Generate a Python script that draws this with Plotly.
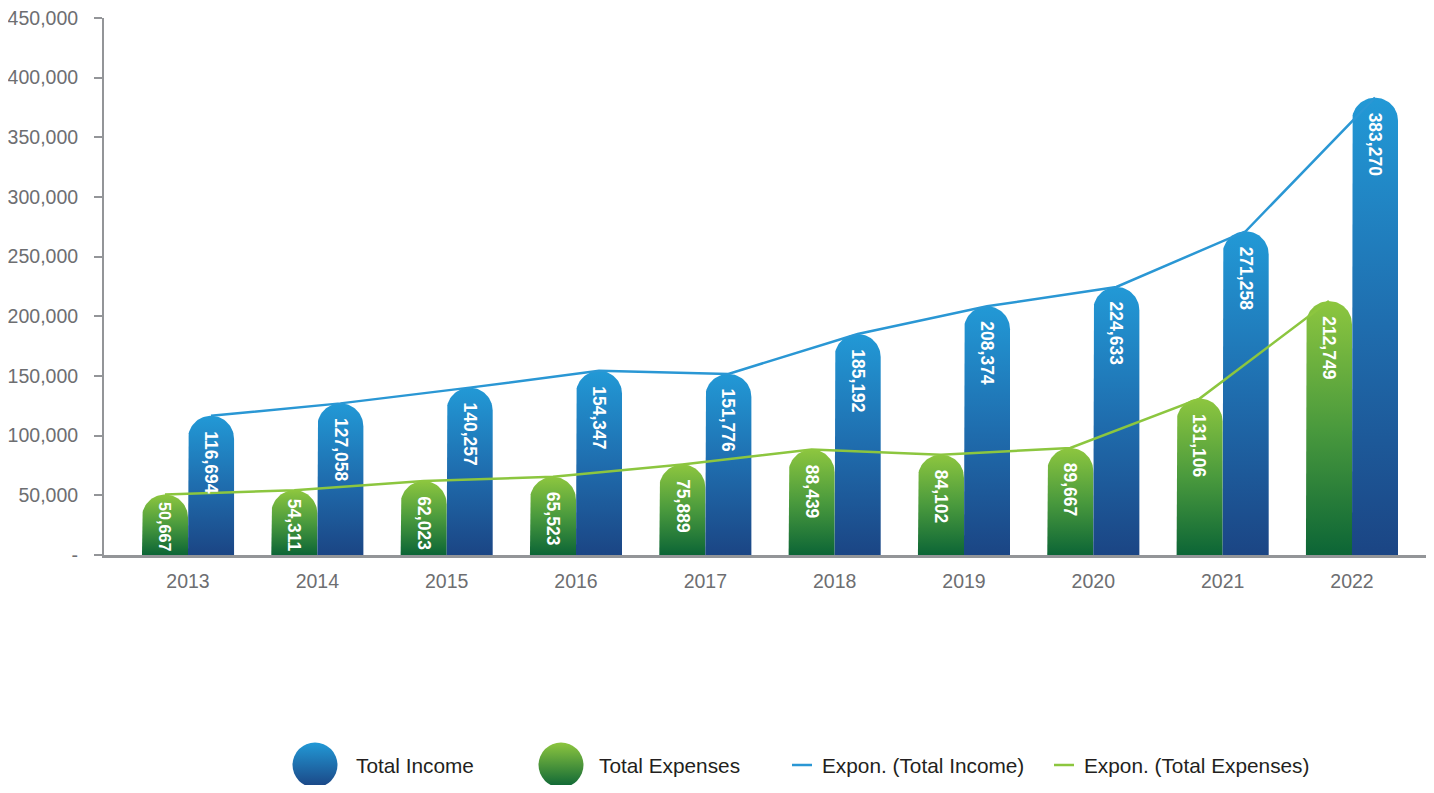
import numpy as np
import plotly.graph_objects as go

# ---------------- data ----------------
years = ["2013", "2014", "2015", "2016", "2017", "2018", "2019", "2020", "2021", "2022"]
total_income = [116694, 127058, 140257, 154347, 151776, 185192, 208374, 224633, 271258, 383270]
total_expenses = [50667, 54311, 62023, 65523, 75889, 88439, 84102, 89667, 131106, 212749]
y_tickvals = [0, 50000, 100000, 150000, 200000, 250000, 300000, 350000, 400000, 450000]
y_ticktext = ["-", "50,000", "100,000", "150,000", "200,000", "250,000",
              "300,000", "350,000", "400,000", "450,000"]

# ---------------- layout constants ----------------
PAGE_PAD = 8                       # default body margin of the html page
W, H = 1434 - 2 * PAGE_PAD, 793 - 2 * PAGE_PAD
M_T, M_B = 18 - PAGE_PAD, 0
PLOT_H = H - M_T - M_B
X_LEFT_PX = 104 - PAGE_PAD
MAIN_H_PX = 537
CAT_PX = 129.33                    # px between category centres
FIRST_CAT_PX = 188 - PAGE_PAD      # px of first category centre
X0 = -(FIRST_CAT_PX - X_LEFT_PX) / CAT_PX
X1 = X0 + (W - X_LEFT_PX) / CAT_PX
Y_MAX = 450000
BAR_W = 0.356            # each bar width in category units
OFF = BAR_W / 2          # offset of each bar from category centre

sx = CAT_PX                        # px per x unit
sy = MAIN_H_PX / Y_MAX             # px per y unit

BLUE_SCALE = [[0, "#1b4584"], [0.5, "#1f6dae"], [1, "#2299d6"]]
GREEN_SCALE = [[0, "#0c6536"], [0.5, "#4a9a3d"], [1, "#8dc63f"]]
BLUE_LINE = "#2a97d4"
GREEN_LINE = "#8cc63f"
AXIS_COL = "#939598"
TICK_COL = "#6d6e71"
FONT = "Liberation Sans, Arial, Helvetica, sans-serif"
LABEL_SIZE = 17.5
LEGEND_SIZE = 20.8


def rounded_bar(cx, value):
    hw = BAR_W / 2
    r_px = hw * sx
    r_y = r_px / sy
    t = np.linspace(np.pi, 0, 40)
    xs = [cx - hw, cx - hw] + list(cx + hw * np.cos(t)) + [cx + hw, cx + hw]
    ys = [0, value - r_y] + list(value - r_y + r_y * np.sin(t)) + [value - r_y, 0]
    return xs, ys


def label_em(txt):
    # approximate Arial-bold advance widths in em
    return sum(0.278 if ch == "," else 0.556 for ch in txt)


fig = go.Figure()

idx = list(range(len(years)))
for i in idx:
    for val, off, scale in ((total_expenses[i], -OFF, GREEN_SCALE),
                            (total_income[i], OFF, BLUE_SCALE)):
        xs, ys = rounded_bar(i + off, val)
        fig.add_trace(go.Scatter(
            x=xs, y=ys, mode="lines", fill="toself",
            fillgradient=dict(type="vertical", colorscale=scale),
            line=dict(width=0, color="rgba(0,0,0,0)"),
            hoverinfo="skip", showlegend=False,
        ))

# trend lines
fig.add_trace(go.Scatter(x=[i + OFF for i in idx], y=total_income, mode="lines",
                         line=dict(color=BLUE_LINE, width=2.5),
                         name="Expon. (Total Income)", showlegend=False))
fig.add_trace(go.Scatter(x=[i - OFF for i in idx], y=total_expenses, mode="lines",
                         line=dict(color=GREEN_LINE, width=2.5),
                         name="Expon. (Total Expenses)", showlegend=False))

annotations = []
for i in idx:
    for val, off in ((total_expenses[i], -OFF), (total_income[i], OFF)):
        txt = f"{val:,}"
        h_px = val * sy
        size = LABEL_SIZE
        length = label_em(txt) * size
        avail = h_px - 11
        if length > avail:
            size = size * avail / length
            length = label_em(txt) * size
        shift = min(13, max(6, h_px - length - 5))
        annotations.append(dict(
            x=i + off, y=val, xref="x", yref="y", text=txt,
            showarrow=False, textangle=90, xanchor="center", yanchor="top",
            yshift=-shift, font=dict(family=FONT, size=size, color="white", weight="bold"),
        ))

# ---------------- custom legend (on a hidden helper axis in pixel units) ----------------
LEG_Y = H - (765 - PAGE_PAD)
leg_circles = [(315, "#2299d6", "#1b4584", "Total Income", 354),
               (561, "#8dc63f", "#0c6536", "Total Expenses", 597)]
for cx, c_top, c_bot, label, tx in leg_circles:
    fig.add_trace(go.Scatter(
        x=[cx - PAGE_PAD], y=[LEG_Y], xaxis="x2", yaxis="y2", mode="markers",
        marker=dict(size=45, color=c_top, gradient=dict(type="vertical", color=c_bot),
                    line=dict(width=0)),
        hoverinfo="skip", showlegend=False))
    annotations.append(dict(x=tx - PAGE_PAD, y=LEG_Y, xref="x2", yref="y2", text=label,
                            showarrow=False, xanchor="left", yanchor="middle",
                            font=dict(family=FONT, size=LEGEND_SIZE, color="#231f20")))

leg_lines = [(792, 812, BLUE_LINE, "Expon. (Total Income)", 820),
             (1054, 1074, GREEN_LINE, "Expon. (Total Expenses)", 1082)]
for xa, xb, col, label, tx in leg_lines:
    fig.add_trace(go.Scatter(
        x=[xa - PAGE_PAD, xb - PAGE_PAD], y=[LEG_Y, LEG_Y], xaxis="x2", yaxis="y2",
        mode="lines", line=dict(color=col, width=2.5), hoverinfo="skip",
        showlegend=False))
    annotations.append(dict(x=tx - PAGE_PAD, y=LEG_Y, xref="x2", yref="y2", text=label,
                            showarrow=False, xanchor="left", yanchor="middle",
                            font=dict(family=FONT, size=LEGEND_SIZE, color="#231f20")))

leg_dom = 0.1
fig.update_layout(
    width=W, height=H,
    margin=dict(l=0, r=0, t=M_T, b=M_B, autoexpand=False),
    paper_bgcolor="white", plot_bgcolor="white",
    showlegend=False,
    annotations=annotations,
    xaxis=dict(
        domain=[X_LEFT_PX / W, 1], range=[X0, X1],
        tickmode="array", tickvals=idx, ticktext=years,
        showgrid=False, zeroline=False, automargin=False,
        showline=True, linecolor=AXIS_COL, linewidth=2.5,
        ticks="", ticklabelstandoff=7, ticklabeloverflow="allow",
        tickfont=dict(family=FONT, size=19.5, color=TICK_COL),
        anchor="y",
    ),
    yaxis=dict(
        domain=[(PLOT_H - MAIN_H_PX) / PLOT_H, 1], range=[0, Y_MAX],
        tickmode="array", tickvals=y_tickvals, ticktext=y_ticktext,
        showgrid=False, zeroline=False, automargin=False,
        showline=True, linecolor=AXIS_COL, linewidth=2,
        ticks="outside", ticklen=8, tickwidth=2, tickcolor=AXIS_COL,
        ticklabelstandoff=12, ticklabeloverflow="allow",
        tickfont=dict(family=FONT, size=19.5, color=TICK_COL),
        anchor="x",
    ),
    xaxis2=dict(domain=[0, 1], range=[0, W], visible=False, anchor="y2",
                fixedrange=True, automargin=False),
    yaxis2=dict(domain=[0, leg_dom], range=[0, PLOT_H * leg_dom], visible=False,
                anchor="x2", fixedrange=True, automargin=False),
)

fig.write_html("out.html")
